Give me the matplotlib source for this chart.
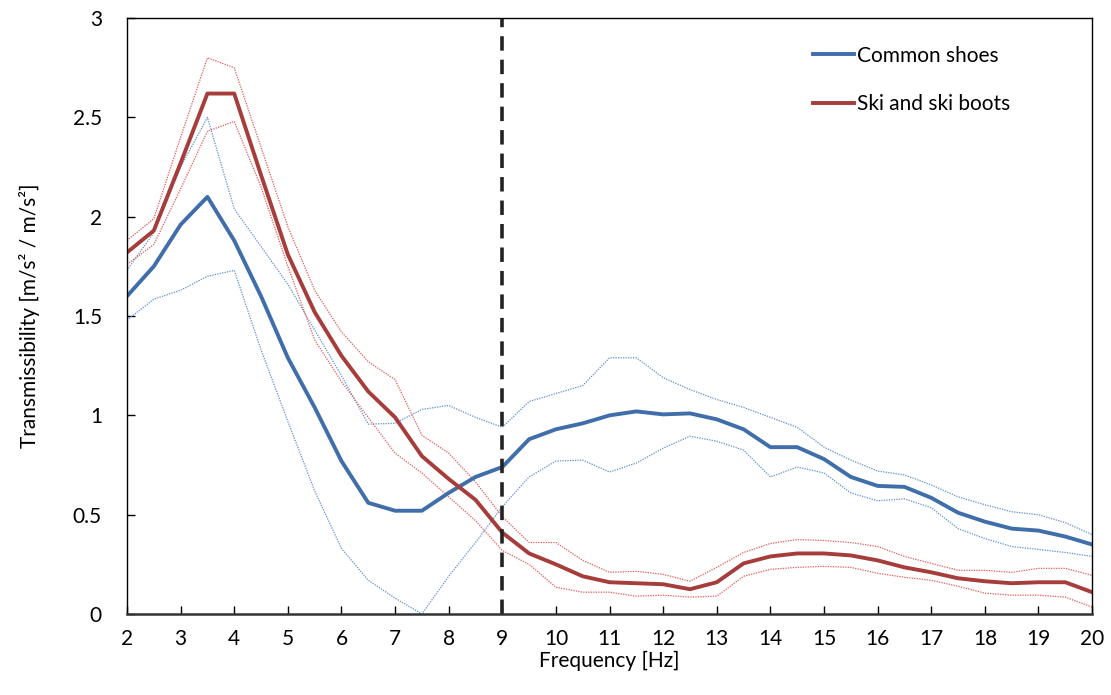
"""
transmissibility of common shoes vs ski boots, with upper/lower bounds
"""
import numpy as np
from matplotlib import pyplot as plt

plt.rcParams['font.family'] = ['Lato', 'DejaVu Sans']

freq = np.arange(2, 20.01, 0.5)

# common shoes: mean, upper and lower bound
shoes_mean = [1.60, 1.75, 1.96, 2.10, 1.88, 1.60, 1.29, 1.04, 0.77, 0.56,
              0.52, 0.52, 0.61, 0.69, 0.74, 0.88, 0.93, 0.96, 1.00, 1.02,
              1.005, 1.01, 0.98, 0.93, 0.84, 0.84, 0.78, 0.69, 0.645, 0.64,
              0.585, 0.51, 0.465, 0.43, 0.42, 0.39, 0.35]
shoes_upper = [1.73, 1.92, 2.25, 2.50, 2.04, 1.85, 1.66, 1.43, 1.20, 0.956,
               0.96, 1.03, 1.05, 0.99, 0.94, 1.07, 1.11, 1.15, 1.29, 1.29,
               1.19, 1.13, 1.08, 1.04, 0.99, 0.94, 0.84, 0.775, 0.72, 0.70,
               0.65, 0.59, 0.55, 0.515, 0.50, 0.46, 0.40]
shoes_lower = [1.48, 1.585, 1.63, 1.70, 1.73, 1.33, 0.97, 0.62, 0.33, 0.17,
               0.08, 0.0, 0.19, 0.36, 0.54, 0.69, 0.77, 0.775, 0.715, 0.76,
               0.835, 0.895, 0.87, 0.825, 0.69, 0.74, 0.71, 0.61, 0.57, 0.58,
               0.535, 0.43, 0.38, 0.34, 0.325, 0.31, 0.29]

# ski and ski boots: mean, upper and lower bound
ski_mean = [1.82, 1.93, 2.27, 2.62, 2.62, 2.21, 1.81, 1.52, 1.30, 1.12,
            0.99, 0.795, 0.68, 0.575, 0.41, 0.305, 0.25, 0.19, 0.16, 0.155,
            0.15, 0.125, 0.16, 0.255, 0.29, 0.305, 0.305, 0.295, 0.27, 0.235,
            0.21, 0.18, 0.165, 0.155, 0.16, 0.16, 0.11]
ski_upper = [1.88, 1.99, 2.40, 2.80, 2.75, 2.35, 1.95, 1.63, 1.42, 1.27,
             1.18, 0.90, 0.81, 0.665, 0.49, 0.36, 0.36, 0.27, 0.21, 0.215,
             0.20, 0.165, 0.235, 0.31, 0.355, 0.375, 0.37, 0.36, 0.34, 0.29,
             0.255, 0.22, 0.22, 0.21, 0.23, 0.23, 0.195]
ski_lower = [1.76, 1.86, 2.14, 2.43, 2.48, 2.15, 1.75, 1.38, 1.17, 0.99,
             0.81, 0.71, 0.59, 0.47, 0.32, 0.25, 0.135, 0.11, 0.11, 0.09,
             0.095, 0.085, 0.09, 0.19, 0.225, 0.235, 0.24, 0.235, 0.205, 0.185,
             0.17, 0.14, 0.105, 0.095, 0.095, 0.085, 0.035]

blue = '#3F6EAA'
red = '#A63D3A'
blue_light = '#5B8FD0'
red_light = '#E05A58'

fig = plt.figure(figsize=(11.11, 6.95), dpi=100)
ax = fig.add_axes([0.1143, 0.1165, 0.8687, 0.8575])

# bounds first, thin dotted
for ys in (shoes_upper, shoes_lower):
    ax.plot(freq, ys, color=blue_light, lw=0.9, ls=(0, (1, 1)))
for ys in (ski_upper, ski_lower):
    ax.plot(freq, ys, color=red_light, lw=0.9, ls=(0, (1, 1)))

ax.plot(freq, shoes_mean, color=blue, lw=2.8, label='Common shoes')
ax.plot(freq, ski_mean, color=red, lw=2.8, label='Ski and ski boots')

ax.axvline(9, color='#222222', lw=2.6, ls=(0, (4, 2.5)))

ax.set_xlim(2, 20)
ax.set_ylim(0, 3)
ax.set_xticks(np.arange(2, 21, 1))
ax.set_yticks([0, 0.5, 1, 1.5, 2, 2.5, 3])
ax.set_yticklabels(['0', '0.5', '1', '1.5', '2', '2.5', '3'])
ax.tick_params(direction='in', length=6, width=1, labelsize=15)
ax.tick_params(axis='x', pad=11)
ax.tick_params(axis='y', pad=18)

for s in ax.spines.values():
    s.set_linewidth(1)
ax.spines['bottom'].set_linewidth(1.8)
ax.spines['bottom'].set_color('#333333')

ax.set_xlabel('Frequency [Hz]', fontsize=15, labelpad=1)
ax.set_ylabel('Transmissibility [m/s² / m/s²]', fontsize=15, labelpad=24)

ax.legend(loc='upper right', bbox_to_anchor=(0.935, 0.985), frameon=False,
          fontsize=15, handlelength=2.0, handletextpad=0.15, labelspacing=1.35)

fig.savefig('out.png', dpi=100)
